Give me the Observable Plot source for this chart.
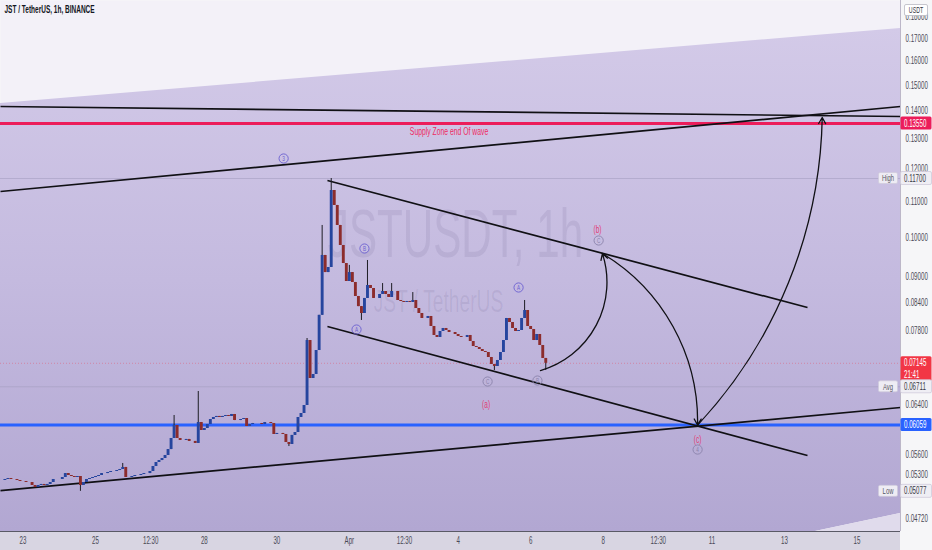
<!DOCTYPE html>
<html><head><meta charset="utf-8">
<script src="https://cdn.jsdelivr.net/npm/d3@7"></script>
<script src="https://cdn.jsdelivr.net/npm/@observablehq/plot@0.6"></script>
<style>
html,body{margin:0;padding:0;background:#f6f6f8;}
#wrap{position:relative;width:932px;height:550px;overflow:hidden;background:#f6f6f8;}
#band{position:absolute;left:0;top:531px;width:900px;height:19px;background:#d8d5e2;}
#chart{position:absolute;left:0;top:0;}
</style></head><body>
<div id="wrap"><div id="band"></div><div id="chart"></div></div>
<script>
// ---------------- DATA ----------------
const title = "JST / TetherUS, 1h, BINANCE";
const watermarkMain = "JSTUSDT, 1h";
const watermarkSub = "JST / TetherUS";
const xDomain = ["2021-03-22T09:06:00Z", "2021-04-16T04:48:00Z"];
const yDomain = [0.04561, 0.18815];

const candleStart = "2021-03-22T10:00:00Z";
const candleStepHours = 2;
const firstOpen = 0.05226;
const closes = [
0.05226,0.05240,0.05254,0.05240,0.05240,0.05226,0.05212,0.05212,0.05198,0.05198,
0.05157,0.05130,0.05157,0.05171,0.05157,0.05171,0.05198,0.05240,0.05240,0.05240,
0.05268,0.05324,0.05296,0.05282,0.05268,0.05282,0.05157,0.05198,0.05240,0.05254,
0.05268,0.05282,0.05296,0.05324,0.05324,0.05339,0.05353,0.05353,0.05367,0.05382,
0.05411,0.05268,0.05268,0.05282,0.05296,0.05296,0.05310,0.05324,0.05324,0.05353,
0.05425,0.05483,0.05512,0.05542,0.05587,0.05676,0.05846,0.06052,0.05846,0.05815,
0.05815,0.05831,0.05800,0.05800,0.05769,0.06101,0.05972,0.06004,0.06068,0.06150,
0.06183,0.06200,0.06183,0.06200,0.06216,0.06200,0.06233,0.06133,0.06133,0.06150,
0.06166,0.06036,0.06068,0.06085,0.06085,0.06085,0.06068,0.06101,0.06101,0.06085,
0.05909,0.05925,0.05925,0.05909,0.05784,0.05753,0.05894,0.05940,0.06183,0.06249,
0.06384,0.07593,0.06861,0.06935,0.07393,0.08121,0.09528,0.09103,0.09227,0.11332,
0.10888,0.10322,0.09785,0.09325,0.08888,0.09103,0.08865,0.08540,0.08312,0.08161,
0.08495,0.08794,0.08724,0.08495,0.08495,0.08586,0.08654,0.08586,0.08517,0.08654,
0.08654,0.08449,0.08427,0.08405,0.08427,0.08405,0.08449,0.08270,0.08161,0.08053,
0.08053,0.08096,0.07883,0.07696,0.07655,0.07778,0.07841,0.07799,0.07757,0.07757,
0.07716,0.07675,0.07655,0.07655,0.07696,0.07573,0.07473,0.07453,0.07413,0.07374,
0.07354,0.07257,0.07123,0.07085,0.07199,0.07354,0.07593,0.08053,0.07967,0.07841,
0.07778,0.07799,0.08053,0.08226,0.07883,0.07820,0.07593,0.07716,0.07493,0.07238,
0.07145];
const wickHighIndex = [40, 57, 65, 101, 106, 109, 115, 121, 126, 129, 136, 173];
const wickHighValue = [0.05469, 0.06216, 0.06627, 0.07634, 0.10322, 0.11700, 0.09278, 0.09401, 0.08840, 0.08840, 0.08630, 0.08449];
const wickLowIndex = [26, 95, 119, 163, 180];
const wickLowValue = [0.05077, 0.05722, 0.08010, 0.07009, 0.07009];

// trend lines
const trendNames = ["upperFlat", "upperRising", "supportRising", "channelTop", "channelBottom"];
const trendStartTimes = ["2021-03-22T09:06:00Z", "2021-03-22T09:06:00Z", "2021-03-22T09:06:00Z", "2021-03-31T09:30:00Z", "2021-03-31T09:30:00Z"];
const trendStartPrices = [0.14179, 0.11301, 0.05088, 0.11638, 0.07882];
const trendEndTimes = ["2021-04-16T04:48:00Z", "2021-04-16T04:48:00Z", "2021-04-16T04:48:00Z", "2021-04-13T15:15:00Z", "2021-04-13T15:15:00Z"];
const trendEndPrices = [0.13805, 0.14179, 0.06350, 0.08292, 0.05586];

// background channel
const channelTimes = ["2021-03-22T09:06:00Z", "2021-04-13T20:30:00Z", "2021-04-16T04:48:00Z"];
const channelUpper = [0.14293, 0.17133, 0.17460];
const channelLower = [0.04561, 0.04561, 0.04786];

// horizontal levels
const supplyLevel = 0.13550;
const supplyLabel = "Supply Zone end Of wave";
const supplyLabelTime = "2021-04-03T18:00:00Z";
const supplyLabelPrice = 0.1327;
const demandLevel = 0.06059;
const highLevel = 0.11700, avgLevel = 0.06711, lowLevel = 0.05077, lastPrice = 0.07145;
const countdown = "21:41";

// curved arrows
const arrowStartTimes = ["2021-04-06T06:30:00Z", "2021-04-07T23:30:00Z", "2021-04-10T14:30:00Z"];
const arrowStartPrices = [0.07009, 0.09577, 0.06059];
const arrowEndTimes = ["2021-04-07T23:30:00Z", "2021-04-10T14:30:00Z", "2021-04-14T01:00:00Z"];
const arrowEndPrices = [0.09577, 0.06059, 0.13768];

// circled wave labels
const circleLabels = ["3", "B", "A", "A", "C", "B", "C", "4"];
const circleTimes = ["2021-03-30T04:30:00Z", "2021-04-01T10:00:00Z", "2021-04-01T04:45:00Z", "2021-04-05T16:00:00Z", "2021-04-04T19:30:00Z", "2021-04-06T04:30:00Z", "2021-04-07T21:00:00Z", "2021-04-10T14:30:00Z"];
const circlePrices = [0.12342, 0.09706, 0.07819, 0.08747, 0.06806, 0.06824, 0.09916, 0.05676];
// red wave labels
const waveLabels = ["(a)", "(b)", "(c)"];
const waveTimes = ["2021-04-04T18:30:00Z", "2021-04-07T20:15:00Z", "2021-04-10T14:30:00Z"];
const wavePrices = [0.06401, 0.10211, 0.05830];

// axes
const yTicks = [0.18, 0.17, 0.16, 0.15, 0.14, 0.13, 0.12, 0.11, 0.10, 0.09, 0.084, 0.078, 0.064, 0.056, 0.053, 0.0472];
const xTickDates = ["2021-03-23T00:00Z", "2021-03-25T00:00Z", "2021-03-26T12:30Z", "2021-03-28T00:00Z", "2021-03-30T00:00Z", "2021-04-01T00:00Z", "2021-04-02T12:30Z", "2021-04-04T00:00Z", "2021-04-06T00:00Z", "2021-04-08T00:00Z", "2021-04-09T12:30Z", "2021-04-11T00:00Z", "2021-04-13T00:00Z", "2021-04-15T00:00Z"];
const xTickLabels = ["23", "25", "12:30", "28", "30", "Apr", "12:30", "4", "6", "8", "12:30", "11", "13", "15"];

// ---------------- BUILD ----------------
const SQ = 0.62;
const D = s => new Date(s);
const t0 = D(candleStart);
const candles = closes.map((c, i) => {
  const o = i ? closes[i - 1] : firstOpen;
  return {t: new Date(+t0 + i * candleStepHours * 3600e3), o, c, h: Math.max(o, c), l: Math.min(o, c)};
});
wickHighIndex.forEach((k, j) => candles[k].h = wickHighValue[j]);
wickLowIndex.forEach((k, j) => candles[k].l = wickLowValue[j]);

const trends = trendNames.map((n, i) => ({n, t1: D(trendStartTimes[i]), p1: trendStartPrices[i], t2: D(trendEndTimes[i]), p2: trendEndPrices[i]}));
const channel = channelTimes.map((t, i) => ({t: D(t), hi: channelUpper[i], lo: channelLower[i]}));
const wedge = channel.slice(1).map(d => ({t: d.t, a: yDomain[0], b: d.lo}));
const arrows = arrowStartTimes.map((t, i) => ({t1: D(t), p1: arrowStartPrices[i], t2: D(arrowEndTimes[i]), p2: arrowEndPrices[i]}));
const circles = circleLabels.map((l, i) => ({l, t: D(circleTimes[i]), p: circlePrices[i], i}));
const waves = waveLabels.map((l, i) => ({l, t: D(waveTimes[i]), p: wavePrices[i]}));
const tickMap = new Map(xTickDates.map((d, i) => [+D(d), xTickLabels[i]]));

const defs = () => {
  const ns = "http://www.w3.org/2000/svg";
  const g = document.createElementNS(ns, "defs");
  g.innerHTML = `<linearGradient id="chanGrad" x1="0" y1="0" x2="0" y2="1">
    <stop offset="0" stop-color="#d3cae8"/><stop offset="0.5" stop-color="#c4badf"/><stop offset="1" stop-color="#b2a7d2"/></linearGradient>`;
  return g;
};

const upCol = "#26459e", downCol = "#8c2c2c", ink = "#101014";

const chart = Plot.plot({
  width: 932, height: 550,
  marginLeft: 0, marginRight: 32, marginTop: 0, marginBottom: 19,
  x: {type: "utc", domain: xDomain.map(D)},
  y: {type: "log", domain: yDomain},
  style: {background: "transparent", fontFamily: "'Liberation Sans', Arial, sans-serif", overflow: "visible"},
  marks: [
    defs,
    Plot.frame({fill: "#f3f1f8", stroke: null}),
    Plot.areaY(channel, {x: "t", y1: "lo", y2: "hi", fill: "url(#chanGrad)"}),
    Plot.areaY(wedge, {x: "t", y1: "a", y2: "b", fill: "#e0dbec"}),
    Plot.text([watermarkMain], {frameAnchor: "middle", dx: 5, dy: -31, fontSize: 68, fill: "#3b2f66", fillOpacity: 0.09}),
    Plot.text([watermarkSub], {frameAnchor: "middle", dx: -12, dy: 36, fontSize: 31, fill: "#3b2f66", fillOpacity: 0.09}),
    Plot.ruleY([highLevel], {stroke: "#a49cbf", strokeWidth: 0.8, strokeOpacity: 0.7}),
    Plot.ruleY([avgLevel], {stroke: "#9d96b8", strokeWidth: 0.8, strokeOpacity: 0.6}),
    Plot.ruleY([lastPrice], {stroke: "#f23645", strokeWidth: 0.8, strokeOpacity: 0.45, strokeDasharray: "1,2"}),
    Plot.ruleY([supplyLevel], {stroke: "#ec1d5a", strokeWidth: 3}),
    Plot.ruleY([demandLevel], {stroke: "#2962ff", strokeWidth: 3}),
    Plot.link(trends, {x1: "t1", y1: "p1", x2: "t2", y2: "p2", stroke: ink, strokeWidth: 1.7}),
    Plot.ruleX(candles, {x: "t", y1: "l", y2: "h", stroke: "#1d1d24", strokeWidth: 1}),
    Plot.ruleX(candles, {x: "t", y1: "o", y2: "c", stroke: d => d.c >= d.o ? upCol : downCol, strokeWidth: 2.9}),
    Plot.arrow([arrows[0]], {x1: "t1", y1: "p1", x2: "t2", y2: "p2", bend: -46, stroke: ink, strokeWidth: 1.3, headLength: 8, inset: 0}),
    Plot.arrow([arrows[1]], {x1: "t1", y1: "p1", x2: "t2", y2: "p2", bend: 30, stroke: ink, strokeWidth: 1.3, headLength: 8, inset: 0}),
    Plot.arrow([arrows[2]], {x1: "t1", y1: "p1", x2: "t2", y2: "p2", bend: -21, stroke: ink, strokeWidth: 1.3, headLength: 8, inset: 0}),
    Plot.text([supplyLabel], {x: D(supplyLabelTime), y: supplyLabelPrice, fontSize: 11, fill: "#ee2b62"}),
    Plot.dot(circles, {x: "t", y: "p", r: 4.6, fill: "none", stroke: d => d.i < 4 ? "#6a5fd0" : "#8a82aa", strokeWidth: 0.9}),
    Plot.text(circles, {x: "t", y: "p", text: "l", fontSize: 7.5, fill: d => d.i < 4 ? "#6a5fd0" : "#8a82aa"}),
    Plot.text(waves, {x: "t", y: "p", text: "l", fontSize: 10.5, fill: "#e23c74"}),
    Plot.text([title], {frameAnchor: "top-left", dx: 4, dy: 5, fontSize: 10.5, fontWeight: 600, fill: "#131722", textAnchor: "start"}),
    Plot.axisY(yTicks, {anchor: "right", tickSize: 0, tickPadding: 5, tickFormat: d => d.toFixed(5), fontSize: 10, fill: "#4a4a56", textAnchor: "start"}),
    Plot.axisX(xTickDates.map(D), {anchor: "bottom", tickSize: 0, tickPadding: 5, tickFormat: d => tickMap.get(+d), fontSize: 10, fill: "#4a4a56"}),
    Plot.ruleX([D(xDomain[1])], {stroke: "#bcb7c8", strokeWidth: 1}),
    Plot.ruleY([yDomain[0]], {stroke: "#5a5a66", strokeWidth: 1})
  ]
});

// squeeze all text horizontally (reference typography is condensed)
chart.querySelectorAll("text").forEach(t => {
  const tr = t.getAttribute("transform") || "";
  t.setAttribute("transform", (tr + ` scale(${SQ},1)`).trim());
});

// price tags on the right axis, positioned through Plot's y scale
const ys = chart.scale("y");
const svg = d3.select(chart);
const g = svg.append("g").attr("font-family", "'Liberation Sans', Arial, sans-serif");
function label(x, y, str, size, fill, anchor = "start") {
  g.append("text").attr("transform", `translate(${x},${y}) scale(${SQ},1)`).attr("dy", "0.35em")
    .attr("font-size", size).attr("fill", fill).attr("text-anchor", anchor).text(str);
}
function tag(v, lines, fill, color, stroke) {
  const y = ys.apply(v);
  const h = 12 * lines.length + 1;
  g.append("rect").attr("x", 900.5).attr("y", y - 6.5).attr("width", 31).attr("height", h).attr("rx", 1.5)
    .attr("fill", fill).attr("stroke", stroke || "none").attr("stroke-width", 0.8);
  lines.forEach((s, k) => label(904, y + k * 11.5, s, 10, color));
}
function side(v, str) {
  const y = ys.apply(v);
  g.append("rect").attr("x", 878.5).attr("y", y - 5.5).attr("width", 19).attr("height", 11).attr("rx", 1.5)
    .attr("fill", "#eeecf4").attr("stroke", "#cfcadb").attr("stroke-width", 0.7);
  label(888, y, str, 9.5, "#55555f", "middle");
}
// USDT unit box
g.append("rect").attr("x", 904.5).attr("y", 4.5).attr("width", 23).attr("height", 11).attr("rx", 1.5)
  .attr("fill", "#ffffff").attr("stroke", "#b9b9c2").attr("stroke-width", 0.8);
label(916, 10, "USDT", 8.5, "#333340", "middle");
tag(supplyLevel, [supplyLevel.toFixed(5)], "#ec1d5a", "#ffffff");
tag(highLevel, [highLevel.toFixed(5)], "#efeef4", "#3a3a44", "#cfcadb");
tag(lastPrice, [lastPrice.toFixed(5), countdown], "#f23645", "#ffffff");
tag(avgLevel, [avgLevel.toFixed(5)], "#efeef4", "#3a3a44", "#cfcadb");
tag(demandLevel, [demandLevel.toFixed(5)], "#2962ff", "#ffffff");
tag(lowLevel, [lowLevel.toFixed(5)], "#efeef4", "#3a3a44", "#cfcadb");
side(highLevel, "High");
side(avgLevel, "Avg");
side(lowLevel, "Low");

document.getElementById("chart").appendChild(chart);
</script>
</body></html>
